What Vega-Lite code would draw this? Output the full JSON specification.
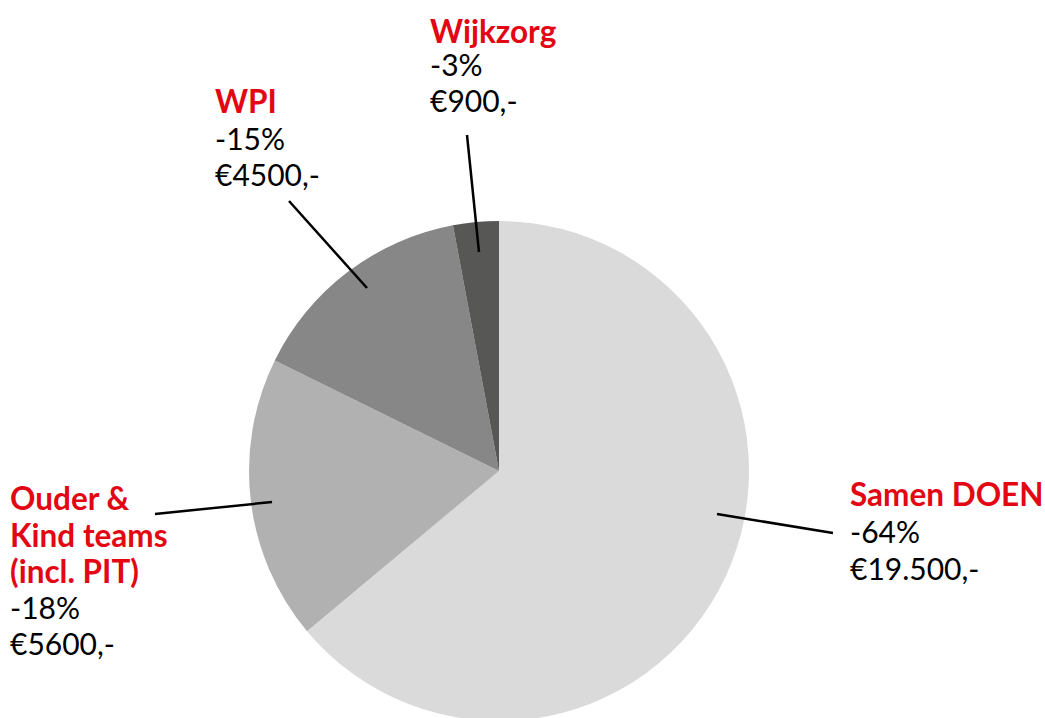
{
  "$schema": "https://vega.github.io/schema/vega-lite/v6.json",
  "width": 998,
  "height": 494,
  "autosize": {"type": "none"},
  "padding": {"left": 0, "top": 224, "right": 47, "bottom": 0},
  "background": "white",
  "config": {"view": {"stroke": null}, "font": "Lato"},
  "datasets": {
    "slices": [
      {"category": "Samen DOEN", "amount": 19500, "order": 1},
      {"category": "Ouder & Kind teams (incl. PIT)", "amount": 5600, "order": 2},
      {"category": "WPI", "amount": 4500, "order": 3},
      {"category": "Wijkzorg", "amount": 900, "order": 4}
    ],
    "callouts": [
      {"name": "Samen DOEN", "x1": 0.872, "y1": -0.172, "x2": 1.336, "y2": -0.248},
      {"name": "WPI", "x1": -0.528, "y1": 0.732, "x2": -0.84, "y2": 1.08},
      {"name": "Ouder & Kind teams (incl. PIT)", "x1": -0.908, "y1": -0.124, "x2": -1.376, "y2": -0.172},
      {"name": "Wijkzorg", "x1": -0.08, "y1": 0.876, "x2": -0.128, "y2": 1.344}
    ],
    "labels": [
      {"name": "Samen DOEN", "kind": "title", "line": "Samen DOEN", "x": 1.404, "y": -0.14},
      {"name": "Samen DOEN", "kind": "value", "line": "-64%", "x": 1.404, "y": -0.288},
      {"name": "Samen DOEN", "kind": "value", "line": "€19.500,-", "x": 1.404, "y": -0.436},
      {"name": "Wijkzorg", "kind": "title", "line": "Wijkzorg", "x": -0.276, "y": 1.714},
      {"name": "Wijkzorg", "kind": "value", "line": "-3%", "x": -0.276, "y": 1.58},
      {"name": "Wijkzorg", "kind": "value", "line": "€900,-", "x": -0.276, "y": 1.436},
      {"name": "WPI", "kind": "title", "line": "WPI", "x": -1.136, "y": 1.431},
      {"name": "WPI", "kind": "value", "line": "-15%", "x": -1.136, "y": 1.284},
      {"name": "WPI", "kind": "value", "line": "€4500,-", "x": -1.136, "y": 1.14},
      {"name": "Ouder & Kind teams (incl. PIT)", "kind": "title", "line": "Ouder &", "x": -1.956, "y": -0.156},
      {"name": "Ouder & Kind teams (incl. PIT)", "kind": "title", "line": "Kind teams", "x": -1.956, "y": -0.304},
      {"name": "Ouder & Kind teams (incl. PIT)", "kind": "title", "line": "(incl. PIT)", "x": -1.956, "y": -0.448},
      {"name": "Ouder & Kind teams (incl. PIT)", "kind": "value", "line": "-18%", "x": -1.956, "y": -0.592},
      {"name": "Ouder & Kind teams (incl. PIT)", "kind": "value", "line": "€5600,-", "x": -1.956, "y": -0.736}
    ]
  },
  "layer": [
    {
      "data": {"name": "slices"},
      "mark": {"type": "arc", "outerRadius": 250, "strokeWidth": 0},
      "encoding": {
        "theta": {"field": "amount", "type": "quantitative", "stack": true},
        "order": {"field": "order", "type": "quantitative", "sort": "ascending"},
        "color": {
          "field": "category",
          "type": "nominal",
          "legend": null,
          "scale": {
            "domain": ["Samen DOEN", "Ouder & Kind teams (incl. PIT)", "WPI", "Wijkzorg"],
            "range": ["#dadada", "#b1b1b1", "#878787", "#575756"]
          }
        }
      }
    },
    {
      "data": {"name": "callouts"},
      "mark": {"type": "rule", "color": "#000000", "strokeWidth": 2.5},
      "encoding": {
        "x": {"field": "x1", "type": "quantitative", "axis": null, "scale": {"domain": [-1.996, 1.996], "nice": false, "zero": false}},
        "y": {"field": "y1", "type": "quantitative", "axis": null, "scale": {"domain": [-0.988, 0.988], "nice": false, "zero": false}},
        "x2": {"field": "x2"},
        "y2": {"field": "y2"}
      }
    },
    {
      "data": {"name": "labels"},
      "transform": [{"filter": "datum.kind === 'title'"}],
      "mark": {"type": "text", "align": "left", "baseline": "alphabetic", "fontSize": 31.5, "fontWeight": "bold", "color": "#e30613"},
      "encoding": {
        "x": {"field": "x", "type": "quantitative", "axis": null, "scale": {"domain": [-1.996, 1.996], "nice": false, "zero": false}},
        "y": {"field": "y", "type": "quantitative", "axis": null, "scale": {"domain": [-0.988, 0.988], "nice": false, "zero": false}},
        "text": {"field": "line", "type": "nominal"}
      }
    },
    {
      "data": {"name": "labels"},
      "transform": [{"filter": "datum.kind === 'value'"}],
      "mark": {"type": "text", "align": "left", "baseline": "alphabetic", "fontSize": 30, "fontWeight": "normal", "color": "#000000"},
      "encoding": {
        "x": {"field": "x", "type": "quantitative", "axis": null, "scale": {"domain": [-1.996, 1.996], "nice": false, "zero": false}},
        "y": {"field": "y", "type": "quantitative", "axis": null, "scale": {"domain": [-0.988, 0.988], "nice": false, "zero": false}},
        "text": {"field": "line", "type": "nominal"}
      }
    }
  ]
}
